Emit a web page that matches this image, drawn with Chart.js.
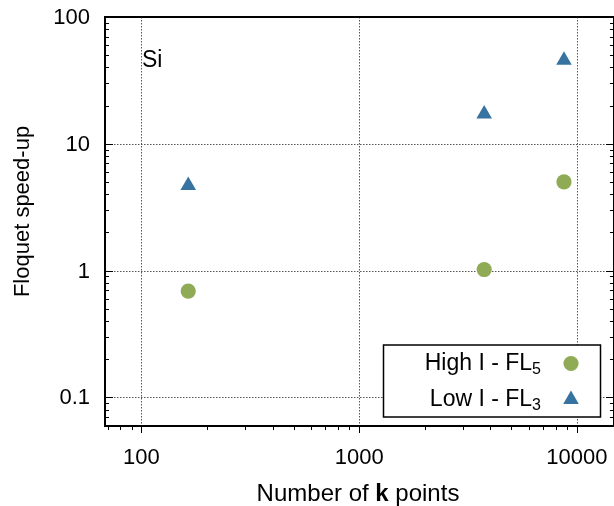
<!DOCTYPE html>
<html>
<head>
<meta charset="utf-8">
<title>Floquet speed-up</title>
<script src="https://cdn.jsdelivr.net/npm/chart.js@4.4.1/dist/chart.umd.min.js"></script>
<style>
  html, body { margin: 0; padding: 0; background: #fff; overflow: hidden; }
  #speedupChart { display: block; }
</style>
</head>
<body>
<canvas id="speedupChart" width="614" height="506"></canvas>
<script>
// number of k points for each run, and the speed-up for both schemes
const kPoints = [164, 3750, 8720];
const highISpeedup = [0.69, 1.02, 5.0];
const lowISpeedup = [4.7, 17.2, 45.5];

const seriesNames = [['High I - FL', '5'], ['Low I - FL', '3']];
const seriesColors = ['#8fab55', '#3673a1'];

const xMajorTicks = [100, 1000, 10000];
const xTickLabels = ['100', '1000', '10000'];
const xMinorTicks = [70, 80, 90, 200, 300, 400, 500, 600, 700, 800, 900,
  2000, 3000, 4000, 5000, 6000, 7000, 8000, 9000];
const yMajorTicks = [0.1, 1, 10, 100];
const yTickLabels = ['0.1', '1', '10', '100'];
const yMinorTicks = [0.06, 0.07, 0.08, 0.09, 0.2, 0.3, 0.4, 0.5, 0.6, 0.7, 0.8, 0.9,
  2, 3, 4, 5, 6, 7, 8, 9, 20, 30, 40, 50, 60, 70, 80, 90];

const FONT = '"Liberation Sans", Arial, sans-serif';
Chart.defaults.font.family = FONT;
Chart.defaults.color = '#000';

function toPoints(ys) {
    return kPoints.map((k, i) => ({ x: k, y: ys[i] }));
}

const markers = [
    { pointStyle: 'circle', radius: 7.6 },
    { pointStyle: 'triangle', radius: 9 }
];

// dotted grid under the points, frame + tick marks + labels on top
const framePlugin = {
    id: 'framePlugin',
    beforeDatasetsDraw(chart) {
        const { ctx, chartArea: a, scales: { x, y } } = chart;
        ctx.save();
        ctx.strokeStyle = '#555';
        ctx.lineWidth = 1;
        ctx.setLineDash([1.5, 1.5]);
        ctx.beginPath();
        xMajorTicks.forEach(v => {
            const px = Math.round(x.getPixelForValue(v)) + 0.5;
            ctx.moveTo(px, a.top);
            ctx.lineTo(px, a.bottom);
        });
        yMajorTicks.forEach(v => {
            const py = Math.round(y.getPixelForValue(v)) + 0.5;
            ctx.moveTo(a.left, py);
            ctx.lineTo(a.right, py);
        });
        ctx.stroke();
        ctx.restore();
    },
    afterDatasetsDraw(chart) {
        const { ctx, chartArea: a, scales: { x, y } } = chart;
        ctx.save();
        ctx.strokeStyle = '#000';
        ctx.lineWidth = 1;
        ctx.beginPath();
        // x ticks hang below the bottom axis
        xMajorTicks.concat(xMinorTicks).forEach(v => {
            const px = Math.round(x.getPixelForValue(v)) + 0.5;
            const len = xMajorTicks.includes(v) ? 7 : 4;
            ctx.moveTo(px, a.bottom);
            ctx.lineTo(px, a.bottom + len);
        });
        // y ticks point inwards, left and right
        yMajorTicks.concat(yMinorTicks).forEach(v => {
            const py = Math.round(y.getPixelForValue(v)) + 0.5;
            const len = yMajorTicks.includes(v) ? 8 : 4;
            ctx.moveTo(a.left, py);
            ctx.lineTo(a.left + len, py);
            ctx.moveTo(a.right, py);
            ctx.lineTo(a.right - len, py);
        });
        ctx.stroke();

        ctx.lineWidth = 2;
        ctx.strokeRect(a.left, a.top, a.right - a.left, a.bottom - a.top);

        // tick labels
        ctx.fillStyle = '#000';
        ctx.font = '22px ' + FONT;
        ctx.textBaseline = 'middle';
        ctx.textAlign = 'center';
        xMajorTicks.forEach((v, i) => {
            ctx.fillText(xTickLabels[i], x.getPixelForValue(v), a.bottom + 32);
        });
        ctx.textAlign = 'right';
        yMajorTicks.forEach((v, i) => {
            ctx.fillText(yTickLabels[i], a.left - 15, y.getPixelForValue(v) + 1);
        });

        // material label
        ctx.font = '23px ' + FONT;
        ctx.textAlign = 'left';
        ctx.textBaseline = 'alphabetic';
        ctx.fillText('Si', a.left + 37, a.top + 49.5);

        // axis titles
        ctx.font = '22px ' + FONT;
        ctx.textAlign = 'center';
        ctx.textBaseline = 'middle';
        ctx.save();
        ctx.translate(22.5, 211.5);
        ctx.rotate(-Math.PI / 2);
        ctx.fillText('Floquet speed-up', 0, 0);
        ctx.restore();

        const parts = [['Number of ', ''], ['k', 'bold '], [' points', '']];
        ctx.textAlign = 'left';
        ctx.textBaseline = 'alphabetic';
        let total = 0;
        parts.forEach(p => {
            ctx.font = p[1] + '24px ' + FONT;
            total += ctx.measureText(p[0]).width;
        });
        let tx = 358 - total / 2;
        parts.forEach(p => {
            ctx.font = p[1] + '24px ' + FONT;
            ctx.fillText(p[0], tx, 500.5);
            tx += ctx.measureText(p[0]).width;
        });
        ctx.restore();
    },
    afterDraw(chart) {
        const { ctx, chartArea: a } = chart;
        const boxRight = a.right - 13.5;
        const boxBottom = a.bottom - 9;
        const boxLeft = boxRight - 217;
        const boxTop = boxBottom - 72;
        ctx.save();
        ctx.fillStyle = '#fff';
        ctx.fillRect(boxLeft, boxTop, boxRight - boxLeft, boxBottom - boxTop);
        ctx.strokeStyle = '#000';
        ctx.lineWidth = 1.5;
        ctx.strokeRect(boxLeft, boxTop, boxRight - boxLeft, boxBottom - boxTop);

        const textEnd = boxRight - 59.5;
        const markerX = boxRight - 29.5;
        seriesNames.forEach((name, i) => {
            const base = boxTop + 24.5 + i * 36;
            ctx.fillStyle = '#000';
            ctx.textBaseline = 'alphabetic';
            ctx.textAlign = 'right';
            ctx.font = '16px ' + FONT;
            const subW = ctx.measureText(name[1]).width;
            ctx.fillText(name[1], textEnd, base + 4);
            ctx.font = '23px ' + FONT;
            ctx.fillText(name[0], textEnd - subW, base);

            const m = markers[i];
            ctx.fillStyle = seriesColors[i];
            Chart.helpers.drawPoint(ctx, {
                pointStyle: m.pointStyle, radius: m.radius, rotation: 0, borderWidth: 0
            }, markerX, base - 6);
        });
        ctx.restore();
    }
};

new Chart(document.getElementById('speedupChart'), {
    type: 'scatter',
    data: {
        datasets: [{
            label: seriesNames[0].join(''),
            data: toPoints(highISpeedup),
            pointStyle: markers[0].pointStyle,
            pointRadius: markers[0].radius,
            pointHoverRadius: markers[0].radius,
            backgroundColor: seriesColors[0],
            borderWidth: 0
        }, {
            label: seriesNames[1].join(''),
            data: toPoints(lowISpeedup),
            pointStyle: markers[1].pointStyle,
            pointRadius: markers[1].radius,
            pointHoverRadius: markers[1].radius,
            backgroundColor: seriesColors[1],
            borderWidth: 0
        }]
    },
    options: {
        responsive: false,
        animation: false,
        events: [],
        devicePixelRatio: 1,
        // the right frame edge sits just past the canvas
        layout: { autoPadding: false, padding: { top: 17, right: -2, left: 0, bottom: 0 } },
        plugins: { legend: { display: false }, tooltip: { enabled: false } },
        scales: {
            x: {
                type: 'logarithmic',
                min: 68,
                max: 14800,
                grid: { display: false, drawTicks: false },
                border: { display: false },
                ticks: { display: false },
                afterFit: s => { s.height = 80; }
            },
            y: {
                type: 'logarithmic',
                min: 0.0595,
                max: 100,
                grid: { display: false, drawTicks: false },
                border: { display: false },
                ticks: { display: false },
                afterFit: s => { s.width = 105; }
            }
        }
    },
    plugins: [framePlugin]
});
</script>
</body>
</html>
